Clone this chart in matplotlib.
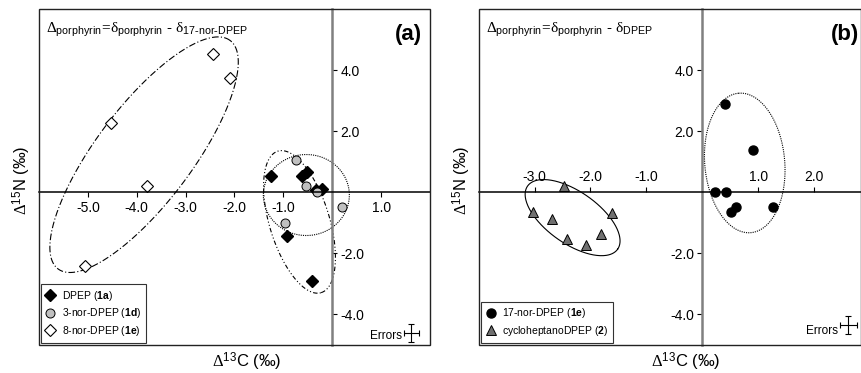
import numpy as np
import matplotlib
matplotlib.use("Agg")
import matplotlib.pyplot as plt
from matplotlib.patches import Rectangle

plt.rcParams['font.family'] = ['Liberation Sans', 'DejaVu Sans']
plt.rcParams['mathtext.fontset'] = 'custom'
plt.rcParams['mathtext.rm'] = 'Liberation Serif'
plt.rcParams['mathtext.it'] = 'Liberation Serif'
plt.rcParams['mathtext.sf'] = 'Liberation Sans'
plt.rcParams['mathtext.bf'] = 'Liberation Sans:bold'

# panel (a): relative to 17-nor-DPEP
dpep_c = [-1.26, -0.61, -0.51, -0.34, -0.20, -0.92, -0.41]
dpep_n = [0.53, 0.52, 0.66, 0.06, 0.12, -1.44, -2.92]
nor3_c = [-0.75, -0.54, -0.31, 0.19, -0.97]
nor3_n = [1.05, 0.19, 0.00, -0.49, -1.00]
nor8_c = [-2.45, -2.10, -4.52, -3.80, -5.05]
nor8_n = [4.52, 3.75, 2.28, 0.19, -2.41]

# panel (b): relative to DPEP
nor17_c = [0.40, 0.91, 0.22, 0.42, 0.52, 0.61, 1.27]
nor17_n = [2.90, 1.38, 0.00, 0.00, -0.63, -0.47, -0.47]
cyc_c = [-3.02, -2.68, -2.42, -2.08, -1.82, -1.62, -2.48]
cyc_n = [-0.64, -0.88, -1.52, -1.71, -1.36, -0.69, 0.22]

err_c = 0.15
err_n = 0.30

xticks_a = [-5, -4, -3, -2, -1, 1]
xticks_b = [-3, -2, -1, 1, 2]
yticks = [-4, -2, 2, 4]

fig = plt.figure(figsize=(8.62, 3.73), dpi=100)
ax1 = fig.add_axes([39/862, 28/373, 391/862, 336/373])
ax2 = fig.add_axes([478.7/862, 28/373, 382.3/862, 336/373])
ax1.set_xlim(-6, 2)
ax2.set_xlim(-4, 2.84)
for ax in (ax1, ax2):
    ax.set_ylim(-5, 6)


def ellipse(ax, cx, cy, a, b, ang, **kw):
    # a, b in pixels, angle in display space
    sx = ax.bbox.width / np.ptp(ax.get_xlim())
    sy = ax.bbox.height / np.ptp(ax.get_ylim())
    t = np.linspace(0, 2*np.pi, 300)
    th = np.radians(ang)
    dx = a*np.cos(t)*np.cos(th) - b*np.sin(t)*np.sin(th)
    dy = a*np.cos(t)*np.sin(th) + b*np.sin(t)*np.cos(th)
    ax.plot(cx + dx/sx, cy + dy/sy, color='black', lw=0.8, **kw)


def frame(ax, zero_x, zero_y):
    for s in ax.spines.values():
        s.set_visible(False)
    ax.add_patch(Rectangle((0, 0), 1, 1, transform=ax.transAxes, fill=False,
                           ec='#222222', lw=1.0, clip_on=False, zorder=5))
    ax.spines[zero_x].set_visible(True)
    ax.spines[zero_x].set_position(('data', 0))
    ax.spines[zero_x].set_color('black')
    ax.spines[zero_x].set_linewidth(1.1)
    ax.spines[zero_y].set_visible(True)
    ax.spines[zero_y].set_position(('data', 0))
    ax.spines[zero_y].set_color('#808080')
    ax.spines[zero_y].set_linewidth(1.8)
    ax.xaxis.set_ticks_position(zero_x)
    ax.yaxis.set_ticks_position(zero_y)
    ax.set_yticks(yticks)
    ax.set_yticklabels([f'{v:.1f}' for v in yticks])
    ax.tick_params(direction='out', length=3.5, width=0.8, labelsize=10, pad=2.5)


# ---- panel (a)
frame(ax1, 'bottom', 'right')
ax1.set_xticks(xticks_a)
ax1.set_xticklabels([f'{v:.1f}' for v in xticks_a])

ellipse(ax1, -3.85, 1.23, 143, 48, 53, ls=(0, (6, 2, 1, 2)))
ellipse(ax1, -0.67, -0.97, 74, 30, -73, ls=(0, (4, 2, 1, 2, 1, 2)))
ellipse(ax1, -0.53, -0.09, 43, 40.5, 0, ls=(0, (1, 1)))

ax1.plot(dpep_c, dpep_n, 'D', ms=6, mfc='black', mec='black', label=r'DPEP ($\mathbf{1a}$)')
ax1.plot(nor3_c, nor3_n, 'o', ms=6.5, mfc='#c0c0c0', mec='black', mew=0.7,
         label=r'3-nor-DPEP ($\mathbf{1d}$)')
ax1.plot(nor8_c, nor8_n, 'D', ms=6, mfc='white', mec='black', mew=0.8,
         label=r'8-nor-DPEP ($\mathbf{1e}$)')

ax1.errorbar([1.62], [-4.60], xerr=err_c, yerr=err_n, fmt='none', ecolor='black',
             elinewidth=0.8, capsize=2, capthick=0.8)
ax1.text(1.42, -4.72, 'Errors', ha='right', va='center', fontsize=8.5)
ax1.text(0.98, 0.955, '(a)', transform=ax1.transAxes, ha='right', va='top',
         fontsize=16, fontweight='bold')
ax1.text(0.018, 0.965,
         r'$\Delta_{\mathsf{porphyrin}}\!=\!\delta_{\mathsf{porphyrin}}$ - '
         r'$\delta_{\mathsf{17}\text{-}\mathsf{nor}\text{-}\mathsf{DPEP}}$',
         transform=ax1.transAxes, ha='left', va='top', fontsize=11)
leg = ax1.legend(loc='lower left', bbox_to_anchor=(0.004, 0.007), fontsize=7.5,
                 frameon=True, fancybox=False, edgecolor='black', handlelength=1.0,
                 handletextpad=0.6, borderpad=0.45, labelspacing=0.35, borderaxespad=0)
leg.get_frame().set_linewidth(0.8)

ax1.text(0.531, -0.05, r'$\Delta^{\mathsf{13}}$C (‰)', transform=ax1.transAxes,
         ha='center', va='center', fontsize=12)
ax1.text(-0.045, 0.49, r'$\Delta^{\mathsf{15}}$N (‰)', transform=ax1.transAxes,
         ha='center', va='center', rotation=90, fontsize=12)

# ---- panel (b)
frame(ax2, 'top', 'left')
ax2.set_xticks(xticks_b)
ax2.set_xticklabels([f'{v:.1f}' for v in xticks_b])

ellipse(ax2, -2.32, -0.83, 55, 26, -35, ls='-')
ellipse(ax2, 0.76, 0.96, 70, 40, 95, ls=(0, (1, 1)))

ax2.plot(nor17_c, nor17_n, 'o', ms=6.5, mfc='black', mec='black',
         label=r'17-nor-DPEP ($\mathbf{1e}$)')
ax2.plot(cyc_c, cyc_n, '^', ms=7, mfc='#707070', mec='black', mew=0.7,
         label=r'cycloheptanoDPEP ($\mathbf{2}$)')

ax2.errorbar([2.61], [-4.35], xerr=err_c, yerr=err_n, fmt='none', ecolor='black',
             elinewidth=0.8, capsize=2, capthick=0.8)
ax2.text(2.42, -4.55, 'Errors', ha='right', va='center', fontsize=8.5)
ax2.text(0.995, 0.955, '(b)', transform=ax2.transAxes, ha='right', va='top',
         fontsize=16, fontweight='bold')
ax2.text(0.018, 0.965,
         r'$\Delta_{\mathsf{porphyrin}}\!=\!\delta_{\mathsf{porphyrin}}$ - '
         r'$\delta_{\mathsf{DPEP}}$',
         transform=ax2.transAxes, ha='left', va='top', fontsize=11)
leg = ax2.legend(loc='lower left', bbox_to_anchor=(0.006, 0.007), fontsize=7.5,
                 frameon=True, fancybox=False, edgecolor='black', handlelength=1.0,
                 handletextpad=0.6, borderpad=0.45, labelspacing=0.35, borderaxespad=0)
leg.get_frame().set_linewidth(0.8)

ax2.text(0.542, -0.05, r'$\Delta^{\mathsf{13}}$C (‰)', transform=ax2.transAxes,
         ha='center', va='center', fontsize=12)
ax2.text(-0.044, 0.49, r'$\Delta^{\mathsf{15}}$N (‰)', transform=ax2.transAxes,
         ha='center', va='center', rotation=90, fontsize=12)

fig.savefig('out.png', dpi=100)
